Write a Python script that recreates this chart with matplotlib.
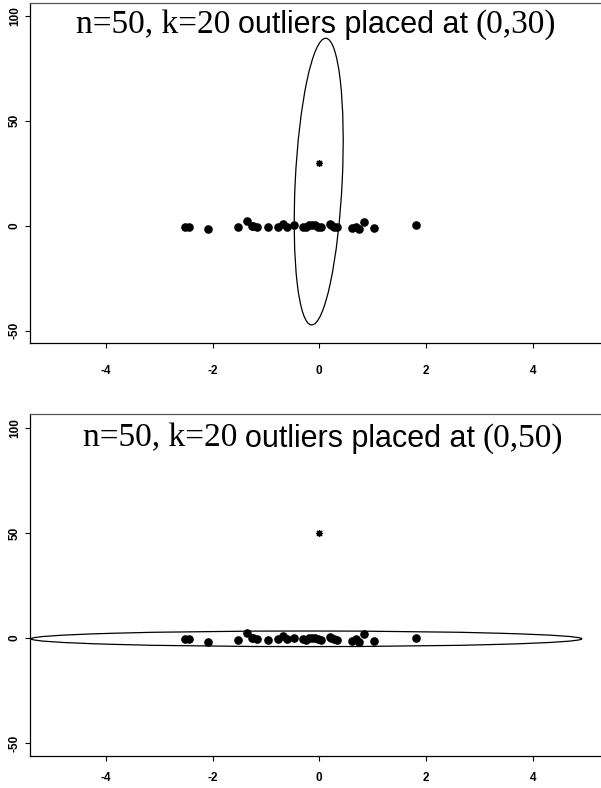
import numpy as np
import matplotlib
matplotlib.use("Agg")
import matplotlib.pyplot as plt
from matplotlib.patches import Ellipse
from matplotlib.transforms import IdentityTransform

## Data

good_x = [-2.52, -2.44, -2.08, -1.52, -1.36, -1.26, -1.24, -1.17, -0.96, -0.77,
          -0.68, -0.61, -0.47, -0.30, -0.24, -0.19, -0.14, -0.08, -0.02, 0.03,
          0.20, 0.22, 0.28, 0.33, 0.61, 0.69, 0.75, 0.84, 1.03, 1.81]
good_y = [-0.5, -0.5, -1.6, -0.8, 2.4, -0.1, 0.0, -0.4, -0.8, -0.5,
          0.8, -0.5, 0.1, -0.6, -0.8, 0.1, 0.3, 0.1, -0.5, -0.8,
          0.6, 0.2, -0.4, -0.8, -1.3, -0.5, -1.7, 1.9, -1.2, 0.2]

outlier_pos = [(0, 30), (0, 50)]
titles_pre = ["n=50, k=20", "n=50, k=20"]
titles_mid = ["outliers placed at", "outliers placed at"]
titles_post = ["(0,30)", "(0,50)"]

# tolerance ellipses: center, full length along major, full minor, angle (deg)
ell_center = [(-0.01, 21.0), (-0.24, -0.3)]
ell_major = [136.5, 10.32]
ell_minor = [0.88, 7.4]
ell_angle = [89.89, 0.0]

xticks = [-4, -2, 0, 2, 4]
yticks = [-50, 0, 50, 100]

W, H = 601, 788
fig = plt.figure(figsize=(W / 100, H / 100), dpi=100)

# axes boxes in pixels: left, top, bottom
boxes = [(30, 3.3, 343.3), (30, 414.3, 756)]
ylims = [(-56, 105.9), (-56, 106.4)]
xpads = [12, 8]
text_y = [33, 446.7]  # baseline, pixels from top
text_x = [76, 83]

axes = []
for i in range(2):
    l, t, b = boxes[i]
    ax = fig.add_axes([l / W, 1 - b / H, 1 - l / W, (b - t) / H])
    ax.set_xlim(-5.42, 5.28)
    ax.set_ylim(*ylims[i])
    ax.spines["right"].set_visible(False)
    for s in ["left", "top", "bottom"]:
        ax.spines[s].set_linewidth(0.9)
    ax.spines["top"].set_color("#555555")

    ax.set_xticks(xticks)
    ax.set_yticks(yticks)
    ax.set_xticklabels([str(v) for v in xticks], fontsize=8.5, fontweight="bold",
                       family="Liberation Sans")
    ax.set_yticklabels([str(v) for v in yticks], fontsize=8.5, fontweight="bold",
                       family="Liberation Sans", rotation=90, va="center")
    ax.tick_params(axis="x", length=3.6, width=0.8, pad=xpads[i])
    ax.tick_params(axis="y", length=3.6, width=0.8, pad=3)

    ax.plot(good_x, good_y, "o", color="black", markersize=6.2, markeredgewidth=0)
    ox, oy = outlier_pos[i]
    ax.plot([ox], [oy], marker=(8, 2, 0), color="black", markersize=5,
            markeredgewidth=0.9, linestyle="none")

    e = Ellipse(ell_center[i], width=ell_major[i], height=ell_minor[i],
                angle=ell_angle[i], fill=False, edgecolor="black", linewidth=0.9)
    ax.add_patch(e)
    axes.append(ax)

## Titles with mixed fonts
fig.canvas.draw()
renderer = fig.canvas.get_renderer()
for i in range(2):
    x = text_x[i]
    y = H - text_y[i]
    parts = [(titles_pre[i], "Liberation Serif", 24),
             (titles_mid[i], "Liberation Sans", 22),
             (titles_post[i], "Liberation Serif", 24)]
    for txt, fam, fs in parts:
        tt = fig.text(x, y, txt, fontsize=fs, family=fam, va="baseline", ha="left",
                      transform=IdentityTransform())
        bb = tt.get_window_extent(renderer)
        x = bb.x1 + fs * 0.32

fig.savefig("out.png", dpi=100)
